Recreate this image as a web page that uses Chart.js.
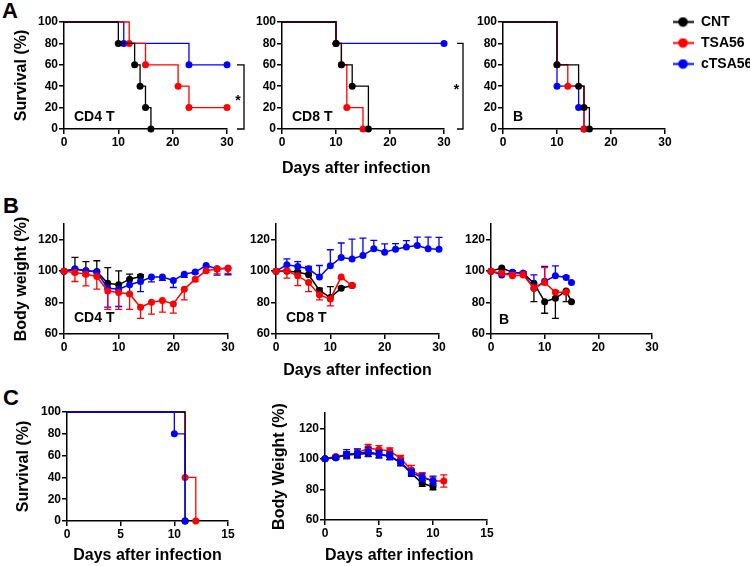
<!DOCTYPE html>
<html>
<head>
<meta charset="utf-8">
<script src="https://cdn.jsdelivr.net/npm/chart.js@4.4.1/dist/chart.umd.min.js"></script>
<style>
  body { margin: 0; background: #fff; width: 750px; height: 566px; position: relative; overflow: hidden;
         font-family: Arial, "Liberation Sans", sans-serif; }
  .panel { position: absolute; }
  .tag { position: absolute; font-weight: bold; font-size: 22px; line-height: 1; color: #000; }
</style>
</head>
<body>
<div class="tag" style="left:2px;top:0px">A</div>
<div class="tag" style="left:3px;top:195px">B</div>
<div class="tag" style="left:3px;top:387px">C</div>

<div class="panel" id="a1"><canvas></canvas></div>
<div class="panel" id="a2"><canvas></canvas></div>
<div class="panel" id="a3"><canvas></canvas></div>
<div class="panel" id="b1"><canvas></canvas></div>
<div class="panel" id="b2"><canvas></canvas></div>
<div class="panel" id="b3"><canvas></canvas></div>
<div class="panel" id="c1"><canvas></canvas></div>
<div class="panel" id="c2"><canvas></canvas></div>

<script>
const FONT = 'Arial, "Liberation Sans", sans-serif'
Chart.defaults.font.family = FONT
Chart.defaults.color = '#000'

const CNT = '#000000'
const TSA = '#ff0000'
const CTSA = '#0000ff'
const seriesNames = ['CNT', 'TSA56', 'cTSA56']

const survTicks = [0, 20, 40, 60, 80, 100]
const weightTicks = [60, 80, 100, 120]
const dayTicks30 = [0, 10, 20, 30]
const dayTicks15 = [0, 5, 10, 15]

// A - survival (%)
const a1CntDays = [0, 10, 13, 14, 15, 16]
const a1CntSurv = [100, 80, 60, 40, 20, 0]
const a1TsaDays = [0, 12, 15, 21, 23, 30]
const a1TsaSurv = [100, 80, 60, 40, 20, 20]
const a1CtsaDays = [0, 11, 23, 30]
const a1CtsaSurv = [100, 80, 60, 60]

const a2CntDays = [0, 10, 11, 13, 16]
const a2CntSurv = [100, 80, 60, 40, 0]
const a2TsaDays = [0, 10, 11, 12, 15]
const a2TsaSurv = [100, 80, 60, 20, 0]
const a2CtsaDays = [0, 10, 30]
const a2CtsaSurv = [100, 80, 80]

const a3CntDays = [0, 10, 14, 15, 16]
const a3CntSurv = [100, 60, 40, 20, 0]
const a3TsaDays = [0, 10, 12, 15]
const a3TsaSurv = [100, 60, 40, 0]
const a3CtsaDays = [0, 10, 14, 15]
const a3CtsaSurv = [100, 40, 20, 0]

// B - body weight (%), mean and error
const b1CntDays = [0, 2, 4, 6, 8, 10, 12, 14]
const b1CntWt = [100, 101.3, 100.2, 99.8, 92.3, 91.3, 94.9, 96.6]
const b1CntErr = [0, 7.4, 5.9, 6.8, 10, 8.9, 3.2, 1.2]
const b1TsaDays = [0, 2, 4, 6, 8, 10, 12, 14, 16, 18, 20, 22, 24, 26, 28, 30]
const b1TsaWt = [100, 99.1, 98.1, 96.6, 87.4, 86.4, 85.5, 77, 80.2, 81.3, 79.1, 88.5, 94.9, 100.2, 101.3, 101.9]
const b1TsaErr = [0, 5.7, 7.5, 8.1, 11.7, 10.7, 9.8, 7, 7.6, 7.4, 5.8, 6.8, 1.5, 1, 3, 3.5]
const b1CtsaDays = [0, 2, 4, 6, 8, 10, 12, 14, 16, 18, 20, 22, 24, 26, 28, 30]
const b1CtsaWt = [100, 101.3, 100.2, 99.5, 89.1, 88.5, 91.3, 93.4, 96.2, 96.2, 94.1, 98.1, 99.4, 103.6, 101.5, 101.9]
const b1CtsaErr = [0, 3, 3, 2, 12, 11, 6, 6.4, 3, 2, 4.5, 2, 1, 1, 4, 4.2]

const b2CntDays = [0, 2, 4, 6, 8, 10, 12, 14]
const b2CntWt = [100, 100, 99.4, 97.7, 87.7, 83.2, 89.1, 90.8]
const b2CntErr = [0, 1, 1, 1, 1.5, 7, 1, 1]
const b2TsaDays = [0, 2, 4, 6, 8, 10, 12, 14]
const b2TsaWt = [100, 100.2, 97, 92.8, 84.9, 82.3, 96.2, 90.8]
const b2TsaErr = [0, 4.7, 6.2, 5.8, 3.2, 4.4, 1, 1]
const b2CtsaDays = [0, 2, 4, 6, 8, 10, 12, 14, 16, 18, 20, 22, 24, 26, 28, 30]
const b2CtsaWt = [100, 104, 103, 101.5, 96.2, 103.4, 108.7, 107.8, 110, 114.2, 112.1, 114, 115.3, 116.3, 114.2, 114]
const b2CtsaErr = [0, 3.8, 3.1, 1.5, 7.4, 10.2, 9.2, 12.6, 11, 5.4, 5.2, 3.5, 4.1, 5.4, 7.5, 7.5]

const b3CntDays = [0, 2, 4, 6, 8, 10, 12, 14, 15]
const b3CntWt = [100, 102, 99.3, 98.7, 92.3, 80.6, 82.7, 87.4, 80.6]
const b3CntErr = [0, 1, 1, 1.5, 11.7, 7.4, 12.7, 6.8, 0]
const b3TsaDays = [0, 2, 4, 6, 8, 10, 12, 14]
const b3TsaWt = [100, 98.7, 97, 97.5, 89.1, 92.8, 86.6, 86.6]
const b3TsaErr = [0, 1, 2, 2, 2, 9.5, 1, 1]
const b3CtsaDays = [0, 2, 4, 6, 8, 10, 12, 14, 15]
const b3CtsaWt = [100, 97.6, 99.2, 98.7, 89.1, 93.5, 97, 96, 92.8]
const b3CtsaErr = [0, 1, 1, 1, 8.5, 9.5, 6.3, 1, 0]

// C - survival and body weight
const c1CntDays = [0, 11]
const c1CntSurv = [100, 0]
const c1TsaDays = [0, 11, 12]
const c1TsaSurv = [100, 40, 0]
const c1CtsaDays = [0, 10, 11]
const c1CtsaSurv = [100, 80, 0]

const c2CntDays = [0, 1, 2, 3, 4, 5, 6, 7, 8, 9, 10]
const c2CntWt = [100, 100.8, 102.5, 103, 103.5, 103, 101.5, 97.5, 90.5, 84, 81.8]
const c2CntErr = [0.5, 1, 2, 2, 2, 2, 2, 2, 2, 2, 2]
const c2TsaDays = [0, 1, 2, 3, 4, 5, 6, 7, 8, 9, 10, 11]
const c2TsaWt = [100, 101.5, 102.6, 103.9, 106.9, 106.2, 105.1, 100.3, 92.7, 88.4, 85.5, 85.5]
const c2TsaErr = [0.5, 1, 2, 2.5, 2.5, 2.5, 2, 2, 3, 2.5, 2.5, 4]
const c2CtsaDays = [0, 1, 2, 3, 4, 5, 6, 7, 8, 9, 10]
const c2CtsaWt = [100, 100.8, 103, 103.5, 104.6, 103, 102, 97.7, 91.2, 87.7, 85.7]
const c2CtsaErr = [0.5, 1, 3, 3, 3, 2.5, 2.5, 2, 2, 2.5, 3]

// ---- plugins ----
const errorBars = {
	id: 'errorBars',
	beforeDatasetDraw(chart, args) {
		const ds = chart.data.datasets[args.index]
		if (!ds.err) return
		const y = chart.scales.y
		const ctx = chart.ctx
		ctx.save()
		ctx.strokeStyle = ds.borderColor
		ctx.lineWidth = 1.3
		args.meta.data.forEach((pt, i) => {
			const e = ds.err[i]
			if (!e) return
			const v = ds.data[i].y
			const hi = ds.errDir === 'down' ? v : v + e
			const lo = ds.errDir === 'up' ? v : v - e
			const y1 = y.getPixelForValue(hi)
			const y2 = y.getPixelForValue(lo)
			ctx.beginPath()
			ctx.moveTo(pt.x, y1)
			ctx.lineTo(pt.x, y2)
			if (ds.errDir !== 'down') { ctx.moveTo(pt.x - 3.5, y1); ctx.lineTo(pt.x + 3.5, y1) }
			if (ds.errDir !== 'up') { ctx.moveTo(pt.x - 3.5, y2); ctx.lineTo(pt.x + 3.5, y2) }
			ctx.stroke()
		})
		ctx.restore()
	},
}

const cornerLabel = {
	id: 'cornerLabel',
	afterDraw(chart, args, opts) {
		if (!opts.text) return
		const { ctx, chartArea } = chart
		ctx.save()
		ctx.font = 'bold 14px ' + FONT
		ctx.fillStyle = '#000'
		ctx.textBaseline = 'middle'
		ctx.fillText(opts.text, chartArea.left + opts.dx, chartArea.bottom - opts.dy)
		ctx.restore()
	},
}

const bracket = {
	id: 'bracket',
	afterDatasetsDraw(chart, args, opts) {
		if (opts.from === undefined) return
		const { ctx, chartArea } = chart
		const y = chart.scales.y
		const x0 = chartArea.right + opts.dx
		const x1 = x0 + opts.w
		const y0 = y.getPixelForValue(opts.from)
		const y1 = y.getPixelForValue(opts.to)
		ctx.save()
		ctx.strokeStyle = '#000'
		ctx.lineWidth = 1.3
		ctx.beginPath()
		ctx.moveTo(x0, y0)
		ctx.lineTo(x1, y0)
		ctx.lineTo(x1, y1)
		ctx.lineTo(x0, y1)
		ctx.stroke()
		ctx.font = 'bold 14px ' + FONT
		ctx.fillStyle = '#000'
		ctx.textAlign = 'center'
		ctx.textBaseline = 'middle'
		ctx.fillText('*', chartArea.right + opts.starDx, y.getPixelForValue((opts.from + opts.to) / 2) + 4)
		ctx.restore()
	},
}

// move the right-hand legend up so its first row sits on the 100 line
const legendShift = {
	id: 'legendShift',
	afterLayout(chart) {
		const lg = chart.legend
		if (!lg || !lg.options.display) return
		const h = lg.bottom - lg.top
		lg.top = chart.chartArea.top - 14
		lg.bottom = lg.top + h
	},
}

Chart.register(errorBars, cornerLabel, bracket, legendShift)

function legendIcon(color) {
	const c = document.createElement('canvas')
	c.width = 21
	c.height = 11
	const g = c.getContext('2d')
	g.strokeStyle = color
	g.lineWidth = 2
	g.beginPath()
	g.moveTo(0, 5.5)
	g.lineTo(21, 5.5)
	g.stroke()
	g.fillStyle = color
	g.beginPath()
	g.arc(10.5, 5.5, 4.8, 0, Math.PI * 2)
	g.fill()
	return c
}
const icons = [legendIcon(CNT), legendIcon(TSA), legendIcon(CTSA)]

function survSet(label, color, days, surv, order) {
	return {
		label,
		data: days.map((d, i) => ({ x: d, y: surv[i] })),
		borderColor: color,
		backgroundColor: color,
		borderWidth: 1.3,
		stepped: true,
		pointRadius: days.map((d, i) => (i === 0 ? 0 : 3.5)),
		pointBorderWidth: 0,
		order,
		clip: false,
	}
}

function weightSet(label, color, days, wt, err, dir, order) {
	return {
		label,
		data: days.map((d, i) => ({ x: d, y: wt[i] })),
		borderColor: color,
		backgroundColor: color,
		borderWidth: 1.5,
		pointRadius: 3.5,
		pointBorderWidth: 0,
		err,
		errDir: dir,
		order,
		clip: false,
	}
}

function axis(dir, min, max, ticks, title, size, align) {
	return {
		type: 'linear',
		min,
		max,
		afterBuildTicks: (s) => { s.ticks = ticks.map((v) => ({ value: v })) },
		afterFit: (s) => { if (dir === 'x') s.height = size; else s.width = size },
		border: { color: '#000', width: 1.5 },
		grid: { drawOnChartArea: false, color: '#000', lineWidth: 1.5, tickLength: 5 },
		ticks: { color: '#000', padding: 1, font: { size: 12, weight: 'bold' } },
		title: {
			display: !!title,
			text: title || '',
			color: '#000',
			padding: 0,
			align: align || 'center',
			font: { size: 16, weight: 'bold' },
		},
	}
}

function makeChart(id, box, cfg) {
	const wrap = document.getElementById(id)
	const extra = box.legendW || 0
	wrap.style.left = (box.l - box.yw) + 'px'
	wrap.style.top = (box.t - 10) + 'px'
	wrap.style.width = (box.r - box.l + box.yw + box.pr + extra) + 'px'
	wrap.style.height = (box.b - box.t + 10 + box.xh) + 'px'
	return new Chart(wrap.querySelector('canvas'), {
		type: 'line',
		data: { datasets: cfg.datasets },
		options: {
			responsive: true,
			maintainAspectRatio: false,
			animation: false,
			events: [],
			layout: { padding: { left: 0, top: 10, right: box.pr, bottom: 0 } },
			plugins: {
				legend: cfg.legend || { display: false },
				tooltip: { enabled: false },
				cornerLabel: cfg.corner || {},
				bracket: cfg.bracket || {},
			},
			scales: {
				x: axis('x', 0, cfg.xmax, cfg.xticks, cfg.xtitle, box.xh, cfg.xalign),
				y: axis('y', cfg.ymin, cfg.ymax, cfg.yticks, cfg.ytitle, box.yw),
			},
		},
	})
}

const DAYS = 'Days after infection'

// row A
makeChart('a1', { l: 64, r: 227, t: 22, b: 129, yw: 52, xh: 22, pr: 26 }, {
	datasets: [
		survSet(seriesNames[0], CNT, a1CntDays, a1CntSurv, 0),
		survSet(seriesNames[1], TSA, a1TsaDays, a1TsaSurv, 1),
		survSet(seriesNames[2], CTSA, a1CtsaDays, a1CtsaSurv, 2),
	],
	xmax: 30, xticks: dayTicks30, ymin: 0, ymax: 100, yticks: survTicks, ytitle: 'Survival (%)',
	corner: { text: 'CD4 T', dx: 10, dy: 12 },
	bracket: { from: a1CtsaSurv[a1CtsaSurv.length - 1], to: a1CntSurv[a1CntSurv.length - 1], dx: 10, w: 7, starDx: 11 },
})

makeChart('a2', { l: 282, r: 444, t: 22, b: 129, yw: 40, xh: 49, pr: 26 }, {
	datasets: [
		survSet(seriesNames[0], CNT, a2CntDays, a2CntSurv, 0),
		survSet(seriesNames[1], TSA, a2TsaDays, a2TsaSurv, 1),
		survSet(seriesNames[2], CTSA, a2CtsaDays, a2CtsaSurv, 2),
	],
	xmax: 30, xticks: dayTicks30, ymin: 0, ymax: 100, yticks: survTicks, xtitle: DAYS, xalign: 'start',
	corner: { text: 'CD8 T', dx: 10, dy: 12 },
	bracket: { from: a2CtsaSurv[a2CtsaSurv.length - 1], to: a2CntSurv[a2CntSurv.length - 1], dx: 13, w: 6, starDx: 12.5 },
})

makeChart('a3', { l: 503, r: 665, t: 22, b: 129, yw: 40, xh: 22, pr: 0, legendW: 85 }, {
	datasets: [
		survSet(seriesNames[0], CNT, a3CntDays, a3CntSurv, 0),
		survSet(seriesNames[1], TSA, a3TsaDays, a3TsaSurv, 1),
		survSet(seriesNames[2], CTSA, a3CtsaDays, a3CtsaSurv, 2),
	],
	xmax: 30, xticks: dayTicks30, ymin: 0, ymax: 100, yticks: survTicks,
	corner: { text: 'B', dx: 10, dy: 12 },
	legend: {
		display: true,
		position: 'right',
		align: 'start',
		maxWidth: 85,
		labels: {
			color: '#000',
			font: { size: 14, weight: 'bold' },
			usePointStyle: true,
			pointStyleWidth: 22,
			padding: 7,
			generateLabels: (chart) =>
				Chart.defaults.plugins.legend.labels.generateLabels(chart).map((item) => ({
					...item,
					pointStyle: icons[item.datasetIndex],
				})),
		},
	},
})

// row B
makeChart('b1', { l: 64, r: 228, t: 224, b: 334, yw: 52, xh: 22, pr: 12 }, {
	datasets: [
		weightSet(seriesNames[0], CNT, b1CntDays, b1CntWt, b1CntErr, 'up', 2),
		weightSet(seriesNames[1], TSA, b1TsaDays, b1TsaWt, b1TsaErr, 'down', 0),
		weightSet(seriesNames[2], CTSA, b1CtsaDays, b1CtsaWt, b1CtsaErr, 'down', 1),
	],
	xmax: 30, xticks: dayTicks30, ymin: 60, ymax: 130, yticks: weightTicks, ytitle: 'Body weight (%)',
	corner: { text: 'CD4 T', dx: 10, dy: 16 },
})

makeChart('b2', { l: 276, r: 439, t: 224, b: 334, yw: 40, xh: 46, pr: 12 }, {
	datasets: [
		weightSet(seriesNames[0], CNT, b2CntDays, b2CntWt, b2CntErr, 'up', 2),
		weightSet(seriesNames[1], TSA, b2TsaDays, b2TsaWt, b2TsaErr, 'down', 0),
		weightSet(seriesNames[2], CTSA, b2CtsaDays, b2CtsaWt, b2CtsaErr, 'up', 1),
	],
	xmax: 30, xticks: dayTicks30, ymin: 60, ymax: 130, yticks: weightTicks, xtitle: DAYS,
	corner: { text: 'CD8 T', dx: 10, dy: 16 },
})

makeChart('b3', { l: 491, r: 652, t: 224, b: 334, yw: 40, xh: 22, pr: 12 }, {
	datasets: [
		weightSet(seriesNames[0], CNT, b3CntDays, b3CntWt, b3CntErr, 'down', 2),
		weightSet(seriesNames[1], TSA, b3TsaDays, b3TsaWt, b3TsaErr, 'up', 0),
		weightSet(seriesNames[2], CTSA, b3CtsaDays, b3CtsaWt, b3CtsaErr, 'up', 1),
	],
	xmax: 30, xticks: dayTicks30, ymin: 60, ymax: 130, yticks: weightTicks,
	corner: { text: 'B', dx: 8, dy: 14 },
})

// row C
makeChart('c1', { l: 67, r: 228, t: 412, b: 521, yw: 53, xh: 44, pr: 12 }, {
	datasets: [
		survSet(seriesNames[0], CNT, c1CntDays, c1CntSurv, 1),
		survSet(seriesNames[1], TSA, c1TsaDays, c1TsaSurv, 2),
		survSet(seriesNames[2], CTSA, c1CtsaDays, c1CtsaSurv, 0),
	],
	xmax: 15, xticks: dayTicks15, ymin: 0, ymax: 100, yticks: survTicks, ytitle: 'Survival (%)', xtitle: DAYS,
})

makeChart('c2', { l: 325, r: 487, t: 413, b: 520, yw: 55, xh: 45, pr: 12 }, {
	datasets: [
		weightSet(seriesNames[0], CNT, c2CntDays, c2CntWt, c2CntErr, 'both', 1),
		weightSet(seriesNames[1], TSA, c2TsaDays, c2TsaWt, c2TsaErr, 'both', 2),
		weightSet(seriesNames[2], CTSA, c2CtsaDays, c2CtsaWt, c2CtsaErr, 'both', 0),
	],
	xmax: 15, xticks: dayTicks15, ymin: 60, ymax: 130, yticks: weightTicks, ytitle: 'Body Weight (%)', xtitle: DAYS, xalign: 'start',
})
</script>
</body>
</html>
